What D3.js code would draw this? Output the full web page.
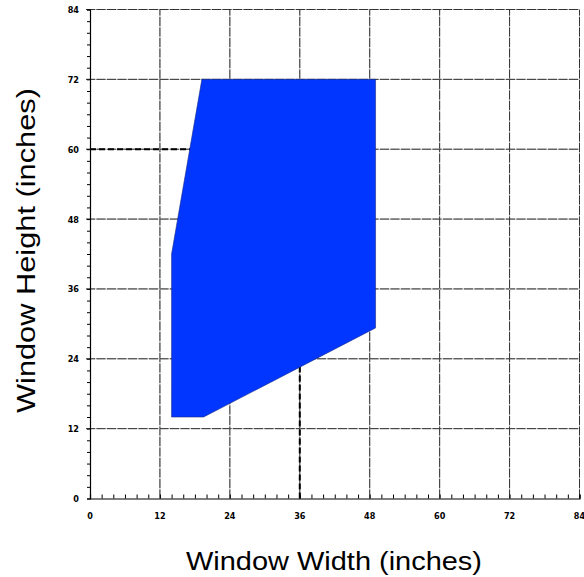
<!DOCTYPE html>
<html><head><meta charset="utf-8">
<script src="https://cdn.jsdelivr.net/npm/d3@7"></script>
<style>body{margin:0;background:#fff}</style>
</head><body>
<svg id="c" width="584" height="577"></svg>
<script>
const tickValues = [0, 12, 24, 36, 48, 60, 72, 84];
const regionWidth = [14, 19.5, 49, 49, 19.2, 14];
const regionHeight = [14, 14, 29.3, 72, 72, 42];
const refLineX = [0, 17.6];   // horizontal dashed line at height 60
const refLineY = [60, 60];
const refLine2X = [36, 36];   // vertical dashed line at width 36
const refLine2Y = [0, 22.6];

const svg = d3.select("#c");
const x = d3.scaleLinear().domain([0, 84]).range([90, 579.5]);
const y = d3.scaleLinear().domain([0, 84]).range([498.5, 9.5]);

// grid
const g = svg.append("g");
tickValues.filter(v => v > 0).forEach(v => {
  g.append("line").attr("x1", x(v)).attr("x2", x(v)).attr("y1", y(0)).attr("y2", y(84))
    .attr("stroke", "#bbb").attr("stroke-width", 1);
  g.append("line").attr("x1", x(v)).attr("x2", x(v)).attr("y1", y(0)).attr("y2", y(84))
    .attr("stroke", "#333").attr("stroke-width", 1).attr("stroke-dasharray", "9,1.5");
  g.append("line").attr("y1", y(v)).attr("y2", y(v)).attr("x1", x(0) - 4).attr("x2", x(84))
    .attr("stroke", "#bbb").attr("stroke-width", 1);
  g.append("line").attr("y1", y(v)).attr("y2", y(v)).attr("x1", x(0) - 4).attr("x2", x(84))
    .attr("stroke", "#333").attr("stroke-width", 1).attr("stroke-dasharray", "9,1.5");
});

// dashed reference lines
const line = d3.line().x(d => x(d[0])).y(d => y(d[1]));
svg.append("path").attr("d", line(refLineX.map((v, i) => [v, refLineY[i]])))
  .attr("stroke", "#000").attr("stroke-width", 2).attr("stroke-dasharray", "6,3").attr("fill", "none");
svg.append("path").attr("d", line(refLine2X.map((v, i) => [v, refLine2Y[i]])))
  .attr("stroke", "#000").attr("stroke-width", 2).attr("stroke-dasharray", "6,3").attr("fill", "none");

// region polygon
svg.append("path")
  .attr("d", line(regionWidth.map((v, i) => [v, regionHeight[i]])) + "Z")
  .attr("fill", "#0036ff").attr("stroke", "#1a2a80").attr("stroke-width", 0.6);

// axes
const minor = d3.range(0, 85, 2);
const xAxis = d3.axisBottom(x).tickValues(minor).tickSize(-4).tickFormat("");
svg.append("g").attr("transform", `translate(0,${y(0)})`).call(xAxis)
  .call(s => s.select(".domain").attr("stroke", "#000").attr("stroke-width", 1.2));
const yAxis = d3.axisLeft(y).tickValues(minor).tickSize(3).tickFormat("");
svg.append("g").attr("transform", `translate(${x(0)},0)`).call(yAxis)
  .call(s => s.select(".domain").attr("stroke", "#000").attr("stroke-width", 1.2));

// tick labels
const lab = svg.append("g").attr("font-family", "DejaVu Sans Condensed, DejaVu Sans")
  .attr("font-weight", "bold").attr("font-size", "9px").attr("fill", "#000");
tickValues.forEach(v => {
  lab.append("text").attr("x", x(v)).attr("y", y(0) + 20.5).attr("text-anchor", "middle").text(v);
  lab.append("text").attr("x", x(0) - 11).attr("y", y(v) + 3.5).attr("text-anchor", "end").text(v);
});

// axis titles
svg.append("text").attr("x", 334).attr("y", 570).attr("text-anchor", "middle")
  .attr("font-family", "Liberation Sans, Arial").attr("font-size", "25px")
  .attr("textLength", 296).attr("lengthAdjust", "spacingAndGlyphs").text("Window Width (inches)");
svg.append("text").attr("transform", `translate(35,250.5) rotate(-90)`).attr("text-anchor", "middle")
  .attr("font-family", "Liberation Sans, Arial").attr("font-size", "26px")
  .attr("textLength", 325).attr("lengthAdjust", "spacingAndGlyphs").text("Window Height (inches)");
</script>
</body></html>
